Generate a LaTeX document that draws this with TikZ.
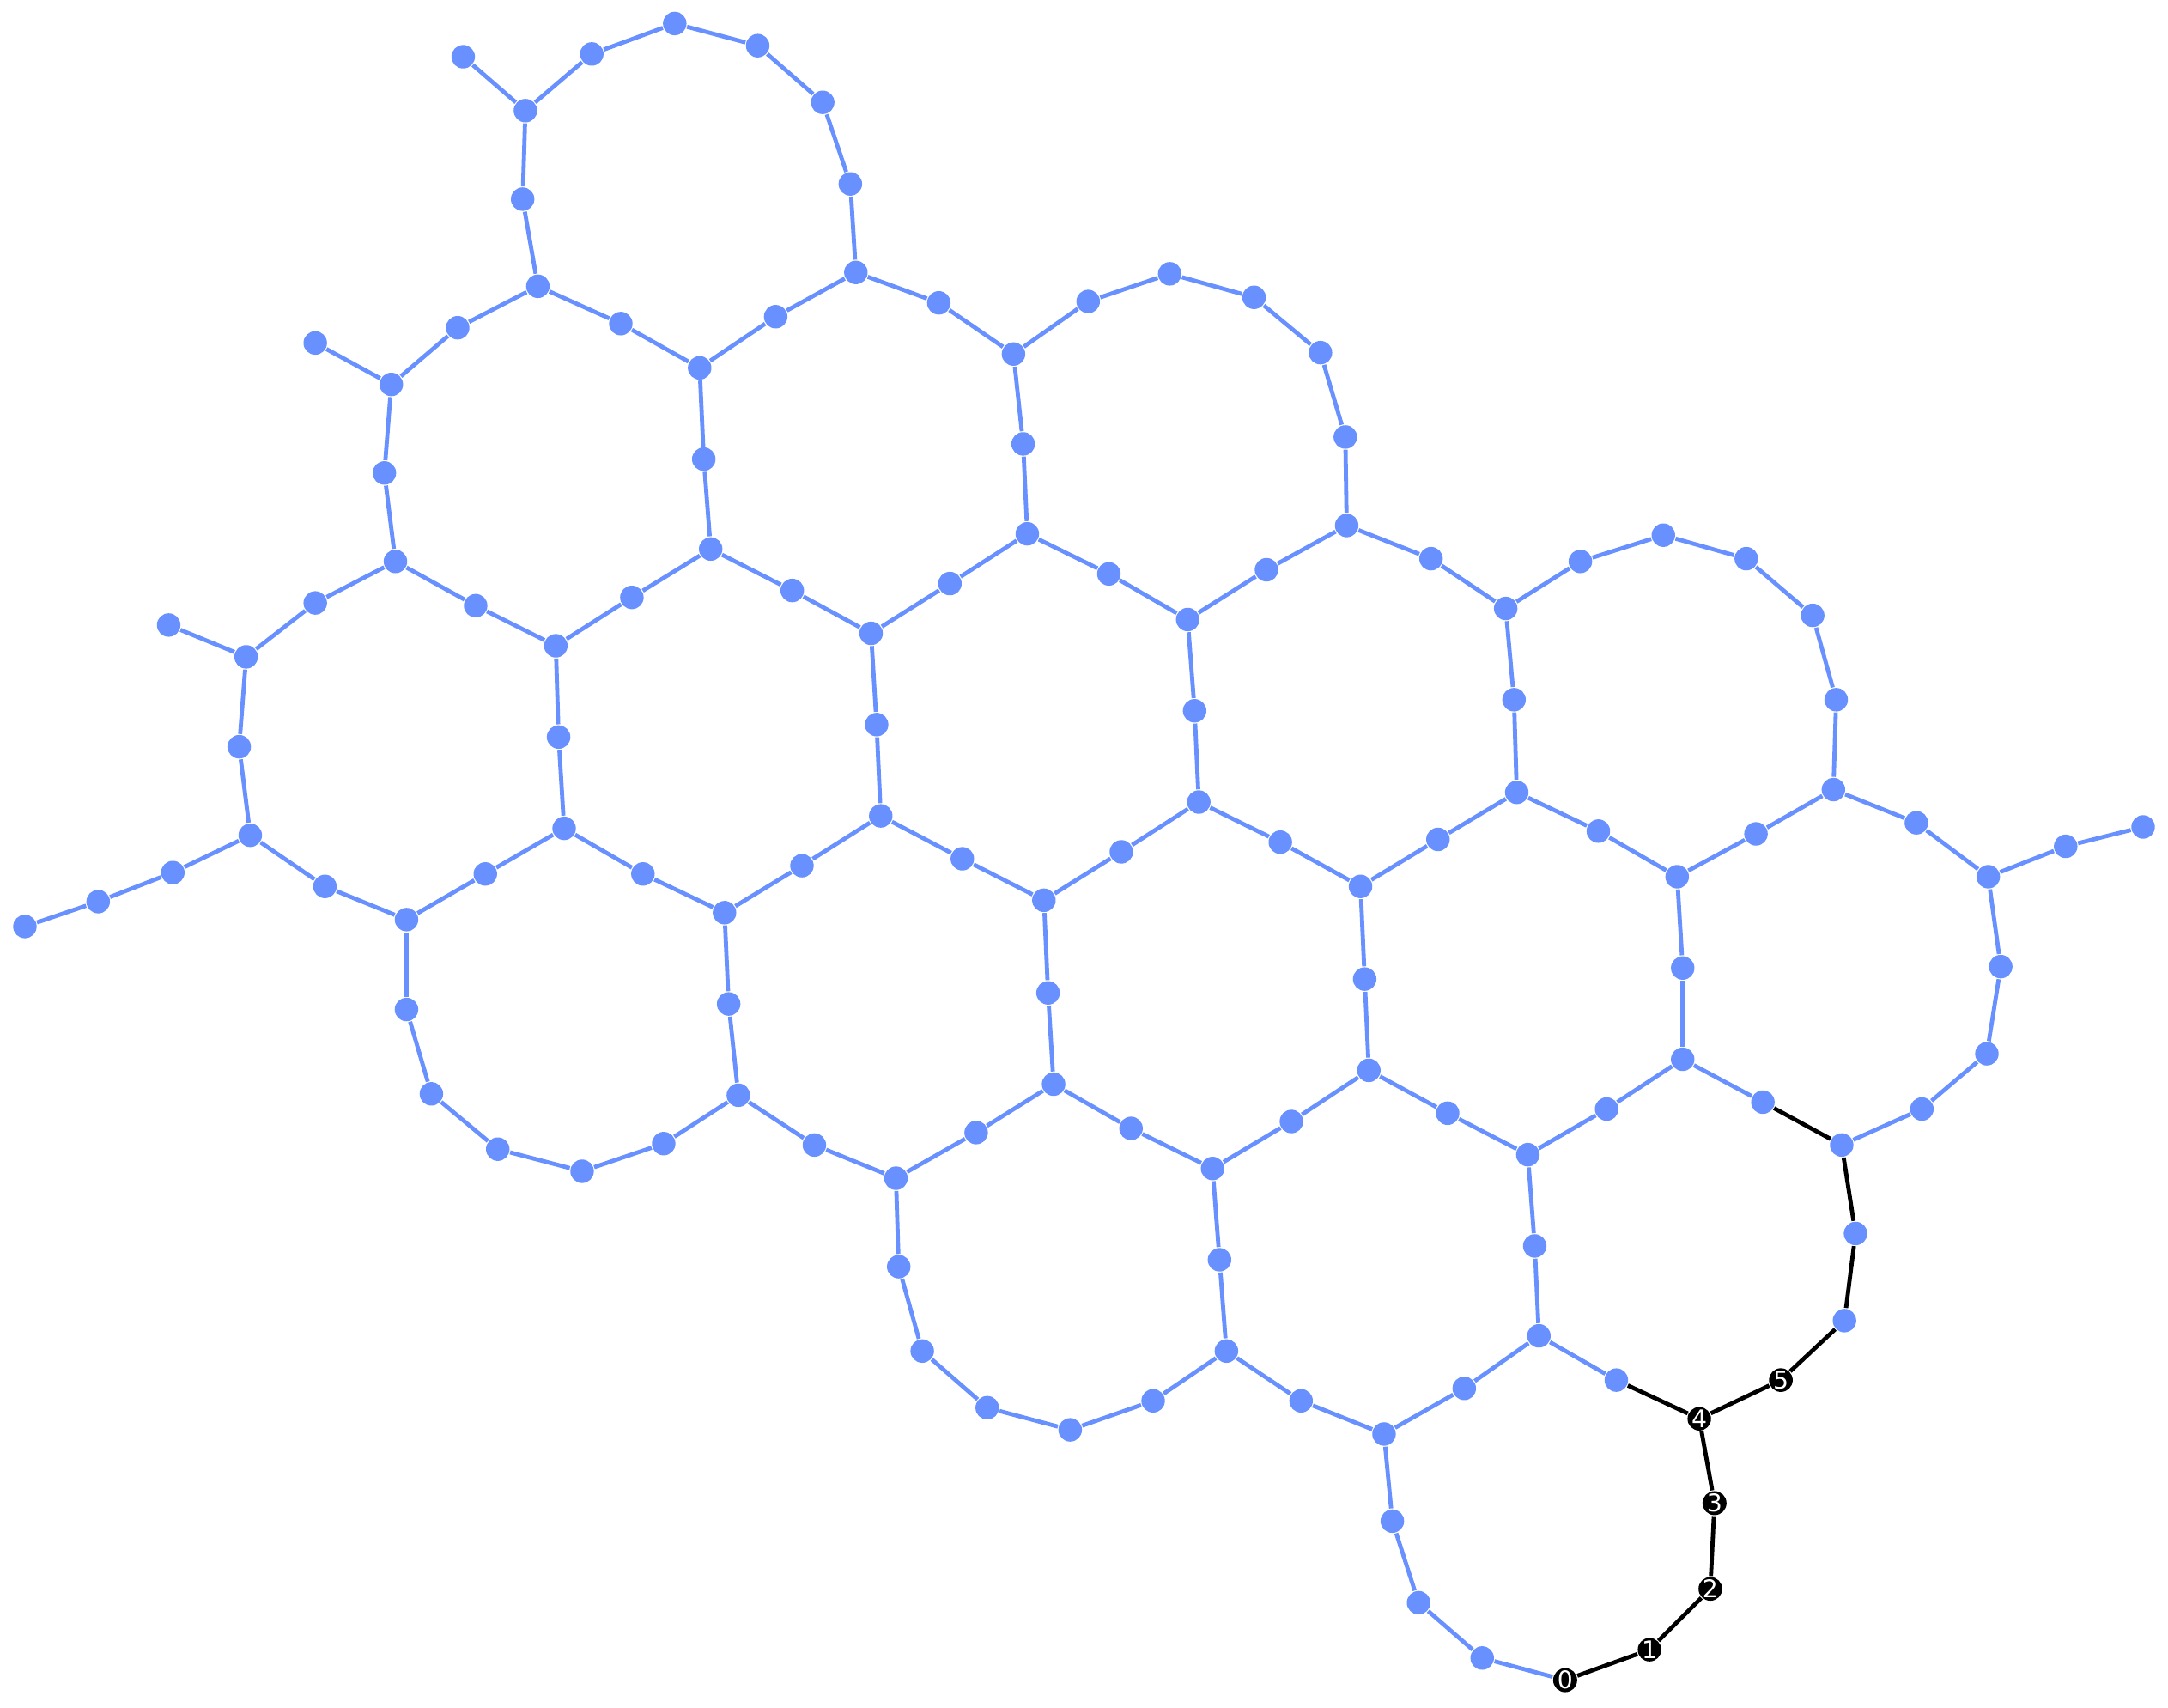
\documentclass[tikz,border=0pt]{standalone}
\usepackage{fontspec}
\setsansfont{DejaVu Sans}
\definecolor{nodeblue}{RGB}{104,145,255}
\tikzset{
  vtx/.style={circle,fill=nodeblue,inner sep=0pt,minimum size=0.17cm},
  numvtx/.style={circle,fill=black,text=white,inner sep=0pt,minimum size=0.17cm,font=\sffamily\fontsize{5}{5}\selectfont},
  bluelink/.style={nodeblue,line width=0.85pt},
  blacklink/.style={black,line width=0.85pt}
}
\begin{document}
\begin{tikzpicture}[x=0.01cm,y=-0.01cm]
\useasboundingbox (0,0) rectangle (1568,1235);
% blue vertices
\foreach \n/\x/\y in {A1/335/41,A2/380/80,A3/428/39,A4/488/17,A5/548/33,A6/595/74,A7/615/133,A8/619/197,A9/378/144,A10/389/207,
  B1/228/248,B2/283/278,B3/331/237,B4/449/234,B5/506/266,B6/561/229,B7/679/219,B8/733/256,B9/787/218,B10/846/198,B11/907/215,B12/955/255,B13/973/316,B14/974/380,
  C1/278/342,C2/286/406,C3/509/332,C4/514/397,C5/740/321,C6/743/386,
  D1/122/452,D2/178/475,D3/228/436,D4/344/438,D5/402/467,D6/457/432,D7/573/427,D8/630/458,D9/687/422,D10/802/415,D11/859/448,D12/916/412,D13/1035/404,D14/1089/440,D15/1143/406,D16/1203/387,D17/1263/404,D18/1311/445,D19/1328/506,D20/1326/571,
  E1/173/540,E2/181/604,E3/404/533,E4/408/599,E5/634/524,E6/637/590,E7/864/514,E8/867/580,E9/1095/506,E10/1097/573,
  F1/18/670,F2/71/652,F3/125/631,F4/235/641,F5/294/665,F6/351/632,F7/465/632,F8/524/660,F9/580/626,F10/696/621,F11/755/651,F12/811/616,F13/926/609,F14/984/641,F15/1040/607,F16/1156/601,F17/1213/634,F18/1270/603,F19/1386/595,F20/1438/634,F21/1494/612,F22/1550/598,
  G1/294/730,G2/312/791,G3/360/831,G4/421/847,G5/480/827,G6/534/792,G7/527/726,G8/758/718,G9/762/784,G10/987/708,G11/990/774,G12/1217/700,G13/1217/766,G14/1447/699,G15/1437/762,G16/1390/802,G17/1332/828,
  H1/589/828,H2/648/852,H3/706/819,H4/818/816,H5/877/845,H6/934/811,H7/1047/805,H8/1105/835,H9/1162/802,H10/1275/797,
  I1/650/916,I2/667/977,I3/714/1018,I4/774/1034,I5/834/1013,I6/887/977,I7/882/911,I8/1110/901,I9/1113/966,I10/1342/892,I11/1334/955,
  J1/941/1013,J2/1001/1037,J3/1059/1004,J4/1169/998,
  K1/1007/1100,K2/1026/1159,K3/1072/1199}
  \node[vtx] (\n) at (\x,\y) {};
% numbered vertices
\foreach \i/\x/\y in {0/1132/1215,1/1193/1193,2/1237/1149,3/1240/1087,4/1229/1026,5/1288/998}
  \node[numvtx] (n\i) at (\x,\y) {\i};
% blue edges
\foreach \a/\b in {A1/A2,A2/A3,A3/A4,A4/A5,A5/A6,A6/A7,A7/A8,A2/A9,A9/A10,
  B1/B2,B2/B3,B3/A10,A10/B4,B4/B5,B5/B6,B6/A8,A8/B7,B7/B8,B8/B9,B9/B10,B10/B11,B11/B12,B12/B13,B13/B14,
  B2/C1,C1/C2,B5/C3,C3/C4,B8/C5,C5/C6,
  D1/D2,D2/D3,D3/C2,C2/D4,D4/D5,D5/D6,D6/C4,C4/D7,D7/D8,D8/D9,D9/C6,C6/D10,D10/D11,D11/D12,D12/B14,B14/D13,D13/D14,D14/D15,D15/D16,D16/D17,D17/D18,D18/D19,D19/D20,
  D2/E1,E1/E2,D5/E3,E3/E4,D8/E5,E5/E6,D11/E7,E7/E8,D14/E9,E9/E10,
  F1/F2,F2/F3,F3/E2,E2/F4,F4/F5,F5/F6,F6/E4,E4/F7,F7/F8,F8/F9,F9/E6,E6/F10,F10/F11,F11/F12,F12/E8,E8/F13,F13/F14,F14/F15,F15/E10,E10/F16,F16/F17,F17/F18,F18/D20,D20/F19,F19/F20,F20/F21,F21/F22,
  F5/G1,G1/G2,G2/G3,G3/G4,G4/G5,G5/G6,F8/G7,G7/G6,F11/G8,G8/G9,F14/G10,G10/G11,F17/G12,G12/G13,F20/G14,G14/G15,G15/G16,G16/G17,
  G6/H1,H1/H2,H2/H3,H3/G9,G9/H4,H4/H5,H5/H6,H6/G11,G11/H7,H7/H8,H8/H9,H9/G13,G13/H10,
  H2/I1,I1/I2,I2/I3,I3/I4,I4/I5,I5/I6,H5/I7,I7/I6,H8/I8,I8/I9,
  I6/J1,J1/J2,J2/J3,J3/I9,I9/J4,
  J2/K1,K1/K2,K2/K3,K3/n0}
  \draw[bluelink] (\a) -- (\b);
% black path
\foreach \a/\b in {H10/G17,G17/I10,I10/I11,I11/n5,n5/n4,J4/n4,n4/n3,n3/n2,n2/n1,n1/n0}
  \draw[blacklink] (\a) -- (\b);
\end{tikzpicture}
\end{document}
